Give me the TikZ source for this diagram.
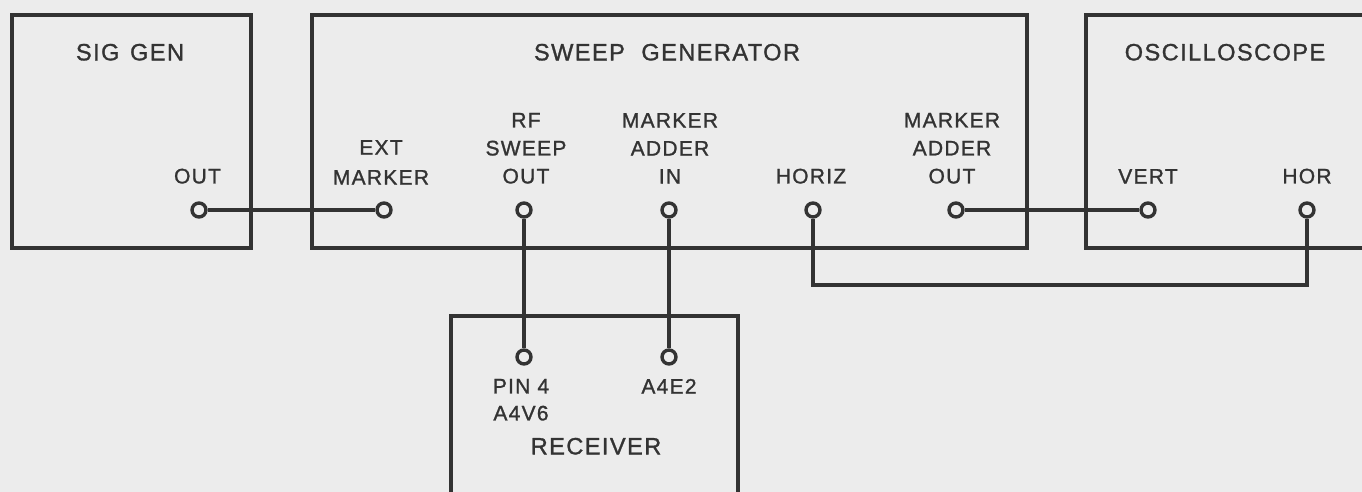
\documentclass[tikz,border=0pt]{standalone}
\usepackage{fontspec}
\setmainfont{Liberation Sans}[LetterSpace=6,FakeBold=1.2]
\definecolor{ink}{HTML}{333333}
\definecolor{paper}{HTML}{ECECEC}
\begin{document}
\begin{tikzpicture}[x=0.5pt,y=-0.5pt,
  box/.style={draw=ink,line width=1.8pt,rectangle,inner sep=0pt},
  term/.style={circle,draw=ink,fill=paper,line width=1.7pt,minimum size=7pt,inner sep=0pt},
  wire/.style={draw=ink,line width=1.6pt},
  title/.style={text=ink,font=\fontsize{11.8}{14}\selectfont,anchor=south,inner sep=0pt},
  lbl/.style={text=ink,font=\fontsize{10.5}{14}\selectfont,align=center,anchor=south,inner sep=0pt}]
\fill[paper] (0,0) rectangle (1362,492);
\useasboundingbox (0,0) rectangle (1362,492);
\clip (0,0) rectangle (1362,492);
% boxes
\node[box,minimum width=119.5pt,minimum height=116.5pt] (siggen) at (131.5,131.5) {};
\node[box,minimum width=357.5pt,minimum height=116.5pt] (sweep) at (669.5,131.5) {};
\node[box,minimum width=157pt,minimum height=116.5pt] (osc) at (1243,131.5) {};
\node[box,minimum width=143.5pt,minimum height=102pt] (recv) at (594.5,418) {};
% titles
\node[title] (tsig) at (130,61) {SIG\hspace{0.45em}GEN};
\node[title] (tsweep) at (667,61) {SWEEP\hspace{0.7em}GENERATOR};
\node[title] (tosc) at (1225,61) {OSCILLOSCOPE};
\node[title] (trecv) at (596,455) {RECEIVER};
% terminals
\node[term] (sgout) at (199,210) {};
\node[term] (extm) at (384,210) {};
\node[term] (rfout) at (524,210) {};
\node[term] (main) at (669,210) {};
\node[term] (horiz) at (813,210) {};
\node[term] (mao) at (956,210) {};
\node[term] (vert) at (1148,210) {};
\node[term] (hor) at (1307,210) {};
\node[term] (pin4) at (524,357) {};
\node[term] (a4e2) at (669,357) {};
% port labels
\node[lbl] (lout) at (197.5,184) {OUT};
\node[lbl] (lext) at (381,185) {EXT\\[1pt]MARKER};
\node[lbl] (lrf) at (526,184) {RF\\SWEEP\\OUT};
\node[lbl] (lmain) at (670,184) {MARKER\\ADDER\\IN};
\node[lbl] (lhoriz) at (811,184) {HORIZ};
\node[lbl] (lmao) at (952,184) {MARKER\\ADDER\\OUT};
\node[lbl] (lvert) at (1148,184) {VERT};
\node[lbl] (lhor) at (1307,184) {HOR};
\node[lbl,font=\fontsize{10.5}{13.5}\selectfont] (lpin) at (521,421) {PIN 4\\A4V6};
\node[lbl] (la4e2) at (669,394) {A4E2};
% wires
\coordinate (hb) at (813,285);
\draw[wire] (sgout) -- (extm);
\draw[wire] (mao) -- (vert);
\draw[wire] (rfout) -- (pin4);
\draw[wire] (main) -- (a4e2);
\draw[wire] (horiz) -- (hb) -| (hor);
\end{tikzpicture}
\end{document}
